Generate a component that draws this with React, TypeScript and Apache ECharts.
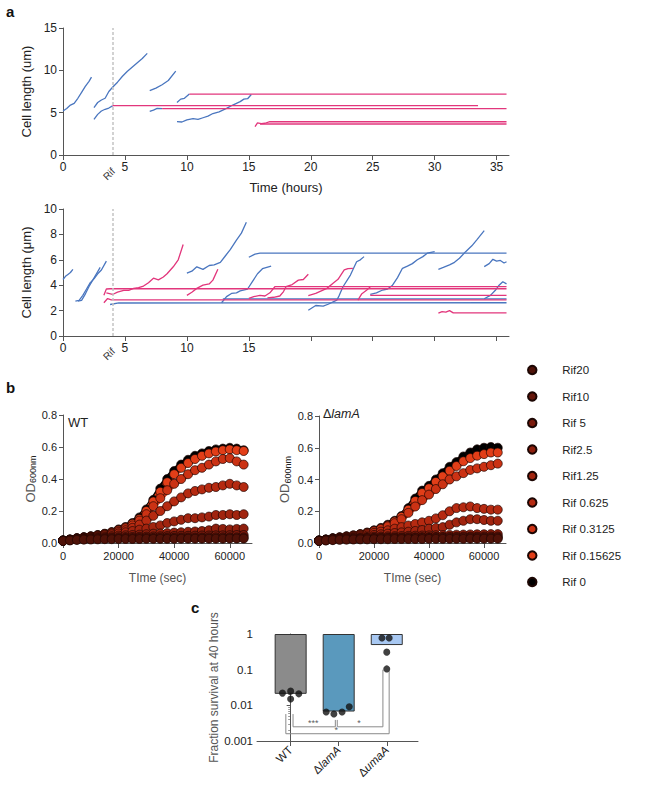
import React, { useEffect, useRef } from "react";
import * as echarts from "echarts";

const FONT = "'Liberation Sans', Arial, Helvetica, sans-serif";
const BLUE = "#4a76bf";
const PINK = "#e2367c";
const AXIS = "#555";
const TXT = "#222";

// ---------- Panel a (top): cell length traces [time h, length um]
const aTopBlue1 = [[0, 5.2], [0.3, 5.5], [0.6, 5.9], [0.9, 6.1], [1.2, 6.7], [1.5, 7.4], [1.8, 8.1], [2.1, 8.7], [2.3, 9.2]];
const aTopBlue2 = [[2.5, 5.6], [2.8, 6.2], [3.1, 6.5], [3.4, 6.7], [3.7, 7.5], [4.0, 8.0], [4.4, 8.6], [4.8, 9.3], [5.2, 9.9], [5.6, 10.4], [6.0, 10.9], [6.4, 11.4], [6.8, 12.0]];
const aTopBlue3 = [[2.5, 4.2], [2.8, 4.8], [3.1, 5.2], [3.4, 5.4], [3.7, 5.55], [4.0, 5.8]];
const aTopBlue4 = [[7.0, 7.6], [7.5, 7.9], [8.0, 8.3], [8.5, 8.8], [9.1, 9.9]];
const aTopBlue5 = [[7.0, 5.15], [7.3, 5.3], [7.6, 5.5], [8.0, 5.47]];
const aTopBlue6 = [[9.2, 6.2], [9.5, 6.6], [9.8, 6.7], [10.2, 7.2]];
const aTopBlue7 = [[9.2, 3.95], [9.6, 3.9], [10.0, 4.15], [10.5, 4.3], [10.9, 4.2], [11.3, 4.4], [11.7, 4.6], [12.1, 4.9], [12.6, 5.1], [13.2, 5.5], [13.7, 5.9], [14.3, 6.3], [14.6, 6.6], [14.9, 6.65], [15.2, 7.15]];
const aTopPink3 = [[4.0, 5.83], [33.5, 5.83]];
const aTopPink5 = [[8.0, 5.47], [35.8, 5.47]];
const aTopPink6 = [[10.2, 7.2], [35.8, 7.2]];
const aTopPink8 = [[15.5, 3.35], [15.7, 3.8], [16.0, 3.7], [16.3, 3.75], [16.7, 3.93], [35.8, 3.93]];
const aTopPink9 = [[15.9, 3.66], [35.8, 3.66]];

// ---------- Panel a (bottom)
const aBotBlue1 = [[0, 4.45], [0.2, 4.7], [0.4, 4.85], [0.6, 5.0], [0.8, 5.25]];
const aBotBlue2 = [[1.0, 2.75], [1.3, 2.8], [1.6, 3.2], [1.9, 3.7], [2.2, 4.2], [2.5, 4.5], [2.8, 4.9], [3.1, 5.2], [3.5, 5.9]];
const aBotBlue3 = [[1.2, 2.75], [1.5, 2.8], [1.8, 3.3], [2.1, 3.9], [2.4, 4.4], [2.7, 4.9], [3.0, 5.4]];
const aBotBlue6 = [[3.8, 2.48], [4.5, 2.6], [35.8, 2.62]];
const aBotBlue7 = [[10.0, 4.95], [10.4, 5.1], [10.8, 5.45], [11.3, 5.25], [11.8, 5.55], [12.2, 5.6], [12.7, 5.8], [13.1, 6.3], [13.5, 6.8], [14.0, 7.55], [14.4, 8.1], [14.8, 8.95]];
const aBotBlue9 = [[12.8, 2.62], [13.2, 3.1], [13.6, 3.35], [14.0, 3.4], [14.3, 3.55], [14.9, 3.7], [15.3, 4.3], [15.7, 4.9], [16.1, 5.3], [16.8, 5.5]];
const aBotBlue10 = [[15.0, 6.2], [15.5, 6.45], [15.9, 6.52], [35.8, 6.52]];
const aBotBlue11 = [[12.9, 2.93], [35.8, 2.93]];
const aBotBlue14 = [[19.8, 2.03], [20.4, 2.4], [21.0, 2.35], [21.4, 2.5], [22.1, 2.82], [22.3, 3.2], [22.6, 3.88], [23.2, 4.8], [23.7, 5.85], [24.0, 6.0], [24.3, 6.25]];
const aBotBlue18 = [[24.8, 3.28], [25.3, 3.4], [25.8, 3.62], [26.2, 3.7], [26.6, 4.0], [27.0, 4.6], [27.4, 5.33], [27.8, 5.5], [28.2, 5.7], [28.6, 6.0], [29.05, 6.25], [29.4, 6.52], [30.0, 6.65]];
const aBotBlue19 = [[30.3, 5.25], [30.7, 5.4], [31.2, 5.6], [31.6, 5.8], [32.0, 6.12], [32.5, 6.64], [33.0, 7.1], [33.4, 7.57], [34.0, 8.3]];
const aBotBlue20 = [[34.0, 5.46], [34.4, 5.7], [34.7, 6.04], [35.0, 5.9], [35.3, 5.95], [35.6, 5.75], [35.8, 5.85]];
const aBotBlue21 = [[34.0, 2.93], [34.5, 3.2], [34.9, 3.6], [35.2, 4.0], [35.5, 4.27], [35.8, 4.1]];
const aBotPink4 = [[3.3, 3.2], [3.5, 3.7], [3.8, 3.72], [35.8, 3.72]];
const aBotPink4b = [[3.5, 3.4], [4.0, 3.27], [4.4, 3.45], [4.9, 3.6], [5.3, 3.6], [5.7, 3.75], [6.1, 3.8], [6.5, 3.93], [6.9, 4.2], [7.3, 4.55], [7.7, 4.42], [8.1, 4.65], [8.4, 4.9], [8.9, 5.45], [9.3, 6.0], [9.7, 7.2]];
const aBotPink5 = [[3.3, 2.62], [3.6, 2.95], [3.9, 2.85], [35.8, 2.85]];
const aBotPink8 = [[10.0, 3.2], [10.4, 3.45], [10.8, 3.75], [11.3, 4.0], [11.8, 4.1], [12.1, 4.4], [12.5, 5.25]];
const aBotPink12 = [[15.0, 2.96], [15.4, 3.1], [15.9, 3.2], [16.3, 3.15], [16.7, 3.4], [17.1, 3.88], [35.8, 3.88]];
const aBotPink13 = [[16.5, 3.0], [17.0, 3.05], [17.5, 3.15], [17.8, 3.5], [18.0, 3.88], [18.5, 4.05], [19.0, 4.4], [19.4, 4.45], [19.8, 4.86]];
const aBotPink15 = [[19.8, 3.17], [20.4, 3.35], [21.3, 3.75], [21.8, 4.15], [22.2, 4.46], [22.7, 5.2], [23.0, 5.3], [23.4, 5.33]];
const aBotPink16 = [[23.8, 2.82], [24.1, 3.3], [24.5, 3.6], [24.8, 3.85]];
const aBotPink17 = [[24.8, 3.2], [35.8, 3.2]];
const aBotPink22 = [[30.3, 1.8], [30.6, 1.92], [30.9, 1.88], [31.2, 2.0], [31.5, 1.82], [35.8, 1.82]];

const aTopBlue = [aTopBlue1, aTopBlue2, aTopBlue3, aTopBlue4, aTopBlue5, aTopBlue6, aTopBlue7];
const aTopPink = [aTopPink3, aTopPink5, aTopPink6, aTopPink8, aTopPink9];
const aBotBlue = [aBotBlue1, aBotBlue2, aBotBlue3, aBotBlue6, aBotBlue7, aBotBlue9, aBotBlue10, aBotBlue11, aBotBlue14, aBotBlue18, aBotBlue19, aBotBlue20, aBotBlue21];
const aBotPink = [aBotPink4, aBotPink4b, aBotPink5, aBotPink8, aBotPink12, aBotPink13, aBotPink15, aBotPink16, aBotPink17, aBotPink22];

const RIF_TIME = 4;
const aTicks = [0, 5, 10, 15, 20, 25, 30, 35];
const aBotLabels = [0, 5, 10, 15];

// ---------- Panel b: OD600 growth curves (time in sec)
const T = [0, 2500, 5000, 7500, 10000, 12500, 15000, 17500, 20000, 22500, 25000, 27500, 30000, 32500, 35000, 37500, 40000, 42500, 45000, 47500, 50000, 52500, 55000, 57500, 60000, 62500, 65000];
const bTicks = [0, 20000, 40000, 60000];

const WT_R0 = [0.015, 0.022, 0.03, 0.036, 0.042, 0.05, 0.058, 0.068, 0.085, 0.1, 0.125, 0.16, 0.21, 0.27, 0.34, 0.4, 0.45, 0.49, 0.52, 0.545, 0.56, 0.575, 0.585, 0.59, 0.595, 0.59, 0.58];
const WT_R015625 = [0.015, 0.021, 0.029, 0.035, 0.041, 0.048, 0.056, 0.066, 0.082, 0.097, 0.12, 0.15, 0.2, 0.26, 0.32, 0.38, 0.43, 0.47, 0.5, 0.525, 0.545, 0.56, 0.572, 0.58, 0.585, 0.58, 0.575];
const WT_R03125 = [0.015, 0.021, 0.029, 0.035, 0.04, 0.047, 0.055, 0.064, 0.078, 0.092, 0.11, 0.14, 0.18, 0.23, 0.28, 0.33, 0.37, 0.4, 0.43, 0.455, 0.47, 0.49, 0.51, 0.525, 0.53, 0.51, 0.49];
const WT_R0625 = [0.015, 0.021, 0.028, 0.034, 0.039, 0.045, 0.052, 0.06, 0.07, 0.08, 0.095, 0.115, 0.14, 0.17, 0.2, 0.23, 0.26, 0.285, 0.31, 0.325, 0.335, 0.345, 0.35, 0.36, 0.37, 0.36, 0.35];
const WT_R125 = [0.015, 0.02, 0.027, 0.032, 0.037, 0.042, 0.048, 0.054, 0.06, 0.067, 0.075, 0.083, 0.09, 0.1, 0.11, 0.125, 0.135, 0.145, 0.155, 0.155, 0.16, 0.165, 0.175, 0.175, 0.18, 0.175, 0.18];
const WT_R25 = [0.015, 0.02, 0.026, 0.03, 0.034, 0.037, 0.04, 0.043, 0.046, 0.048, 0.05, 0.052, 0.055, 0.058, 0.06, 0.062, 0.065, 0.067, 0.07, 0.072, 0.075, 0.08, 0.09, 0.088, 0.085, 0.088, 0.09];
const WT_R5 = [0.015, 0.019, 0.024, 0.027, 0.03, 0.032, 0.034, 0.035, 0.036, 0.037, 0.038, 0.039, 0.04, 0.041, 0.042, 0.043, 0.044, 0.045, 0.045, 0.046, 0.047, 0.047, 0.048, 0.048, 0.049, 0.05, 0.05];
const WT_R10 = [0.014, 0.018, 0.022, 0.025, 0.027, 0.028, 0.029, 0.03, 0.03, 0.031, 0.031, 0.032, 0.032, 0.032, 0.033, 0.033, 0.033, 0.034, 0.034, 0.034, 0.034, 0.035, 0.035, 0.035, 0.035, 0.035, 0.035];
const WT_R20 = [0.013, 0.016, 0.019, 0.021, 0.022, 0.023, 0.024, 0.024, 0.025, 0.025, 0.025, 0.025, 0.026, 0.026, 0.026, 0.026, 0.026, 0.027, 0.027, 0.027, 0.027, 0.027, 0.027, 0.027, 0.028, 0.028, 0.028];

const LAM_R0 = [0.015, 0.022, 0.03, 0.036, 0.042, 0.048, 0.056, 0.066, 0.08, 0.095, 0.115, 0.14, 0.17, 0.22, 0.28, 0.33, 0.36, 0.4, 0.44, 0.48, 0.51, 0.545, 0.57, 0.59, 0.6, 0.605, 0.6];
const LAM_R015625 = [0.015, 0.021, 0.029, 0.035, 0.041, 0.047, 0.055, 0.064, 0.077, 0.092, 0.11, 0.135, 0.165, 0.21, 0.265, 0.315, 0.345, 0.385, 0.42, 0.455, 0.485, 0.515, 0.535, 0.55, 0.56, 0.57, 0.57];
const LAM_R03125 = [0.015, 0.021, 0.028, 0.034, 0.04, 0.046, 0.053, 0.062, 0.074, 0.088, 0.105, 0.125, 0.15, 0.19, 0.23, 0.27, 0.305, 0.34, 0.37, 0.4, 0.42, 0.44, 0.46, 0.47, 0.48, 0.49, 0.5];
const LAM_R0625 = [0.015, 0.021, 0.028, 0.033, 0.038, 0.043, 0.049, 0.056, 0.064, 0.072, 0.08, 0.09, 0.1, 0.11, 0.12, 0.13, 0.14, 0.155, 0.175, 0.2, 0.22, 0.225, 0.23, 0.22, 0.215, 0.21, 0.21];
const LAM_R125 = [0.015, 0.02, 0.027, 0.031, 0.035, 0.039, 0.043, 0.047, 0.051, 0.055, 0.059, 0.063, 0.067, 0.071, 0.076, 0.082, 0.09, 0.095, 0.1, 0.115, 0.13, 0.14, 0.15, 0.15, 0.145, 0.14, 0.14];
const LAM_R25 = [0.015, 0.02, 0.025, 0.029, 0.032, 0.034, 0.036, 0.038, 0.04, 0.041, 0.042, 0.043, 0.044, 0.045, 0.046, 0.047, 0.048, 0.049, 0.05, 0.051, 0.052, 0.053, 0.054, 0.055, 0.055, 0.056, 0.056];
const LAM_R5 = [0.015, 0.019, 0.023, 0.026, 0.028, 0.03, 0.031, 0.032, 0.033, 0.034, 0.034, 0.035, 0.035, 0.036, 0.036, 0.037, 0.037, 0.038, 0.038, 0.039, 0.039, 0.04, 0.04, 0.04, 0.041, 0.041, 0.041];
const LAM_R10 = [0.014, 0.017, 0.021, 0.024, 0.026, 0.027, 0.028, 0.029, 0.029, 0.03, 0.03, 0.031, 0.031, 0.031, 0.032, 0.032, 0.032, 0.033, 0.033, 0.033, 0.033, 0.034, 0.034, 0.034, 0.034, 0.034, 0.034];
const LAM_R20 = [0.013, 0.016, 0.018, 0.02, 0.021, 0.022, 0.023, 0.023, 0.024, 0.024, 0.024, 0.025, 0.025, 0.025, 0.025, 0.025, 0.026, 0.026, 0.026, 0.026, 0.026, 0.026, 0.027, 0.027, 0.027, 0.027, 0.027];

// drawing order: Rif 0 first (underneath), Rif20 last (on top)
const bNames = ["Rif 0", "Rif 0.15625", "Rif 0.3125", "Rif 0.625", "Rif1.25", "Rif2.5", "Rif 5", "Rif10", "Rif20"];
const bColors = ["#000000", "#e23e18", "#cb3214", "#b52a11", "#a1240f", "#8e1f0d", "#7a1a0c", "#65160a", "#4f1208"];
const wtSets = [WT_R0, WT_R015625, WT_R03125, WT_R0625, WT_R125, WT_R25, WT_R5, WT_R10, WT_R20];
const lamSets = [LAM_R0, LAM_R015625, LAM_R03125, LAM_R0625, LAM_R125, LAM_R25, LAM_R5, LAM_R10, LAM_R20];
const legendOrder = ["Rif20", "Rif10", "Rif 5", "Rif2.5", "Rif1.25", "Rif 0.625", "Rif 0.3125", "Rif 0.15625", "Rif 0"];

// ---------- Panel c: fraction survival at 40 hours
const cStrains = ["WT", "ΔlamA", "ΔumaA"];
const cPos = [0, 1, 2];
const cMeans = [0.021, 0.0067, 0.49];
const cColors = ["#8b8b8b", "#5a99bd", "#a8c8f2"];
const cWTPoints = [[-0.17, 0.022], [0, 0.025], [0, 0.015], [0.17, 0.021]];
const cLamPoints = [[0.74, 0.0065], [0.9, 0.0057], [1.07, 0.0065], [1.22, 0.0091]];
const cUmaPoints = [[1.9, 0.77], [2.05, 0.77], [2.0, 0.31], [2.0, 0.105]];
const bracketWtLam = [[0.05, 0.0057], [0.05, 0.0025], [0.93, 0.0025], [0.93, 0.0039]];
const bracketLamUma = [[0.97, 0.0039], [0.97, 0.0025], [1.92, 0.0025], [1.92, 0.1]];
const bracketWtUma = [[-0.1, 0.0057], [-0.1, 0.0016], [2.05, 0.0016], [2.05, 0.092]];
const starLabels = [[0.47, 0.0033, "***"], [1.42, 0.0031, "*"], [0.95, 0.0021, "*"]];

const axisBase = (extra: any) => ({
  axisLine: { show: true, lineStyle: { color: AXIS, width: 1 } },
  axisTick: { show: true, length: 4, lineStyle: { color: AXIS, width: 1 }, ...(extra.axisTick || {}) },
  splitLine: { show: false },
  nameTextStyle: { color: TXT, fontFamily: FONT, fontSize: 13, ...(extra.nameTextStyle || {}) },
  ...extra,
  axisLabel: { color: TXT, fontFamily: FONT, fontSize: 12, ...(extra.axisLabel || {}) },
});

function traceSeries(data: number[][], color: string, idx: number, extra: any = {}) {
  return {
    type: "line",
    xAxisIndex: idx,
    yAxisIndex: idx,
    data,
    symbol: "none",
    showSymbol: false,
    silent: true,
    lineStyle: { color, width: 1.3 },
    itemStyle: { color },
    ...extra,
  };
}

const rifLine = {
  silent: true,
  symbol: "none",
  label: { show: false },
  lineStyle: { color: "#c4c4c4", type: [3, 2], width: 1.5 },
  data: [{ xAxis: RIF_TIME }],
};

const plainNum = (v: number) => String(v);

export default function App() {
  const ref = useRef<HTMLDivElement>(null);

  useEffect(() => {
    document.body.style.margin = "0";
    if (!ref.current) return;
    const chart = echarts.init(ref.current, undefined, { renderer: "svg" });

    const series: any[] = [];
    // panel a top
    series.push(traceSeries(aTopBlue[0], BLUE, 0, { markLine: rifLine }));
    aTopBlue.slice(1).forEach((d) => series.push(traceSeries(d, BLUE, 0)));
    aTopPink.forEach((d) => series.push(traceSeries(d, PINK, 0)));
    // panel a bottom
    series.push(traceSeries(aBotBlue[0], BLUE, 1, { markLine: rifLine }));
    aBotBlue.slice(1).forEach((d) => series.push(traceSeries(d, BLUE, 1)));
    aBotPink.forEach((d) => series.push(traceSeries(d, PINK, 1)));

    // panel b: overlapping circle markers joined by a thick band of the same colour
    const curve = (name: string, color: string, vals: number[], idx: number) => ({
      type: "line",
      name,
      xAxisIndex: idx,
      yAxisIndex: idx,
      data: T.map((t, i) => [t, vals[i]]),
      symbol: "circle",
      symbolSize: 9,
      showSymbol: true,
      showAllSymbol: true,
      silent: true,
      lineStyle: { color, width: 6 },
      itemStyle: { color, borderColor: "#1c0603", borderWidth: 0.7, opacity: 1 },
    });
    bNames.forEach((n, i) => series.push(curve(n, bColors[i], wtSets[i], 2)));
    bNames.forEach((n, i) => series.push(curve(n, bColors[i], lamSets[i], 3)));

    // panel c
    series.push({
      type: "bar",
      xAxisIndex: 4,
      yAxisIndex: 4,
      barWidth: 32,
      silent: true,
      data: cPos.map((p, i) => ({ value: [p, cMeans[i]], itemStyle: { color: cColors[i] } })),
      itemStyle: { borderColor: "#333", borderWidth: 1 },
    });
    [bracketWtLam, bracketLamUma, bracketWtUma].forEach((d) =>
      series.push({
        type: "line",
        xAxisIndex: 4,
        yAxisIndex: 4,
        data: d,
        symbol: "none",
        silent: true,
        lineStyle: { color: "#8a8a8a", width: 1 },
        z: 3,
      })
    );
    [cWTPoints, cLamPoints, cUmaPoints].forEach((d) =>
      series.push({
        type: "scatter",
        xAxisIndex: 4,
        yAxisIndex: 4,
        data: d,
        symbolSize: 7,
        silent: true,
        itemStyle: { color: "#111" },
        z: 4,
      })
    );
    series.push({
      type: "scatter",
      xAxisIndex: 4,
      yAxisIndex: 4,
      data: starLabels,
      symbolSize: 1,
      silent: true,
      itemStyle: { color: "rgba(0,0,0,0)" },
      label: {
        show: true,
        position: "inside",
        formatter: (p: any) => p.data[2],
        color: "#333",
        fontSize: 9,
        fontFamily: FONT,
      },
      z: 5,
    });

    const odName = {
      fontSize: 13,
      rich: { s: { fontSize: 9, verticalAlign: "bottom", padding: [6, 0, 0, 0], fontFamily: FONT, color: TXT } },
    };

    const option: any = {
      animation: false,
      backgroundColor: "#ffffff",
      textStyle: { fontFamily: FONT },
      grid: [
        { left: 63, top: 28, width: 446, height: 127 },
        { left: 63, top: 209, width: 446, height: 127 },
        { left: 63, top: 415, width: 189, height: 128 },
        { left: 319, top: 416, width: 187, height: 127 },
        { left: 257, top: 634, width: 161, height: 107 },
      ],
      xAxis: [
        axisBase({
          type: "value", gridIndex: 0, min: 0, max: 36,
          name: "Time (hours)", nameLocation: "middle", nameGap: 26,
          axisTick: { customValues: aTicks },
          axisLabel: { customValues: aTicks, margin: 6 },
        }),
        axisBase({
          type: "value", gridIndex: 1, min: 0, max: 36,
          axisTick: { customValues: aTicks },
          axisLabel: { customValues: aBotLabels, margin: 6 },
        }),
        axisBase({
          type: "value", gridIndex: 2, min: 0, max: 68000,
          name: "TIme (sec)", nameLocation: "middle", nameGap: 29,
          nameTextStyle: { fontSize: 12 },
          axisTick: { customValues: bTicks },
          axisLabel: { customValues: bTicks, fontSize: 11, margin: 7, formatter: plainNum },
        }),
        axisBase({
          type: "value", gridIndex: 3, min: 0, max: 68000,
          name: "TIme (sec)", nameLocation: "middle", nameGap: 29,
          nameTextStyle: { fontSize: 12 },
          axisTick: { customValues: bTicks },
          axisLabel: { customValues: bTicks, fontSize: 11, margin: 7, formatter: plainNum },
        }),
        axisBase({
          type: "value", gridIndex: 4, min: -0.7, max: 2.65,
          axisTick: { customValues: cPos, length: 5 },
          axisLabel: {
            customValues: cPos,
            rotate: 45,
            fontSize: 11.5,
            margin: 7,
            formatter: (v: number) => {
              const s = cStrains[Math.round(v)] || "";
              return s.startsWith("Δ") ? "Δ{i|" + s.slice(1) + "}" : s;
            },
            rich: { i: { fontStyle: "italic", fontSize: 11.5, color: TXT, fontFamily: FONT } },
          },
        }),
      ],
      yAxis: [
        axisBase({
          type: "value", gridIndex: 0, min: 0, max: 15, interval: 5,
          name: "Cell length (um)", nameLocation: "middle", nameGap: 28,
          axisLabel: { margin: 6 },
        }),
        axisBase({
          type: "value", gridIndex: 1, min: 0, max: 10, interval: 2,
          name: "Cell length (μm)", nameLocation: "middle", nameGap: 28,
          axisLabel: { margin: 6 },
        }),
        axisBase({
          type: "value", gridIndex: 2, min: 0, max: 0.8, interval: 0.2,
          name: "OD{s|600nm}", nameLocation: "middle", nameGap: 24,
          nameTextStyle: odName,
          axisLabel: { fontSize: 11, margin: 6, formatter: (v: number) => v.toFixed(1) },
        }),
        axisBase({
          type: "value", gridIndex: 3, min: 0, max: 0.8, interval: 0.2,
          name: "OD{s|600nm}", nameLocation: "middle", nameGap: 27,
          nameTextStyle: odName,
          axisLabel: { fontSize: 11, margin: 6, formatter: (v: number) => v.toFixed(1) },
        }),
        axisBase({
          type: "log", gridIndex: 4, min: 0.001, max: 1, logBase: 10,
          name: "Fraction survival at 40 hours", nameLocation: "middle", nameGap: 37,
          nameTextStyle: { fontSize: 12 },
          minorTick: { show: true, splitNumber: 9, length: 2.5, lineStyle: { color: AXIS, width: 0.6 } },
          axisLabel: { fontSize: 11.5, margin: 4, formatter: (v: number) => String(Number(v.toPrecision(2))) },
        }),
      ],
      legend: {
        data: legendOrder,
        orient: "vertical",
        left: 522,
        top: 358,
        itemWidth: 50,
        itemHeight: 8.5,
        itemGap: 12.5,
        icon: "circle",
        selectedMode: false,
        textStyle: { fontSize: 11.5, color: TXT, fontFamily: FONT, lineHeight: 14 },
      },
      graphic: [
        { type: "text", left: 6, top: 4, style: { text: "a", font: `bold 15px ${FONT}`, fill: "#111" } },
        { type: "text", left: 6, top: 380, style: { text: "b", font: `bold 15px ${FONT}`, fill: "#111" } },
        { type: "text", left: 191, top: 600, style: { text: "c", font: `bold 15px ${FONT}`, fill: "#111" } },
        { type: "text", x: 109, y: 174, rotation: Math.PI / 4, style: { text: "Rif", fontSize: 10, fontFamily: FONT, fill: "#333", align: "center", verticalAlign: "middle" } },
        { type: "text", x: 109, y: 354, rotation: Math.PI / 4, style: { text: "Rif", fontSize: 10, fontFamily: FONT, fill: "#333", align: "center", verticalAlign: "middle" } },
        { type: "text", left: 68, top: 416, style: { text: "WT", fontSize: 13, fontFamily: FONT, fill: TXT } },
        {
          type: "text", left: 323, top: 407,
          style: { text: "Δ{i|lamA}", fontSize: 12.5, fontFamily: FONT, fill: TXT, rich: { i: { fontStyle: "italic", fontSize: 12.5, fontFamily: FONT, fill: TXT } } },
        },
      ],
      series,
    };

    chart.setOption(option);
    return () => chart.dispose();
  }, []);

  return <div ref={ref} style={{ width: 645, height: 788 }} />;
}
